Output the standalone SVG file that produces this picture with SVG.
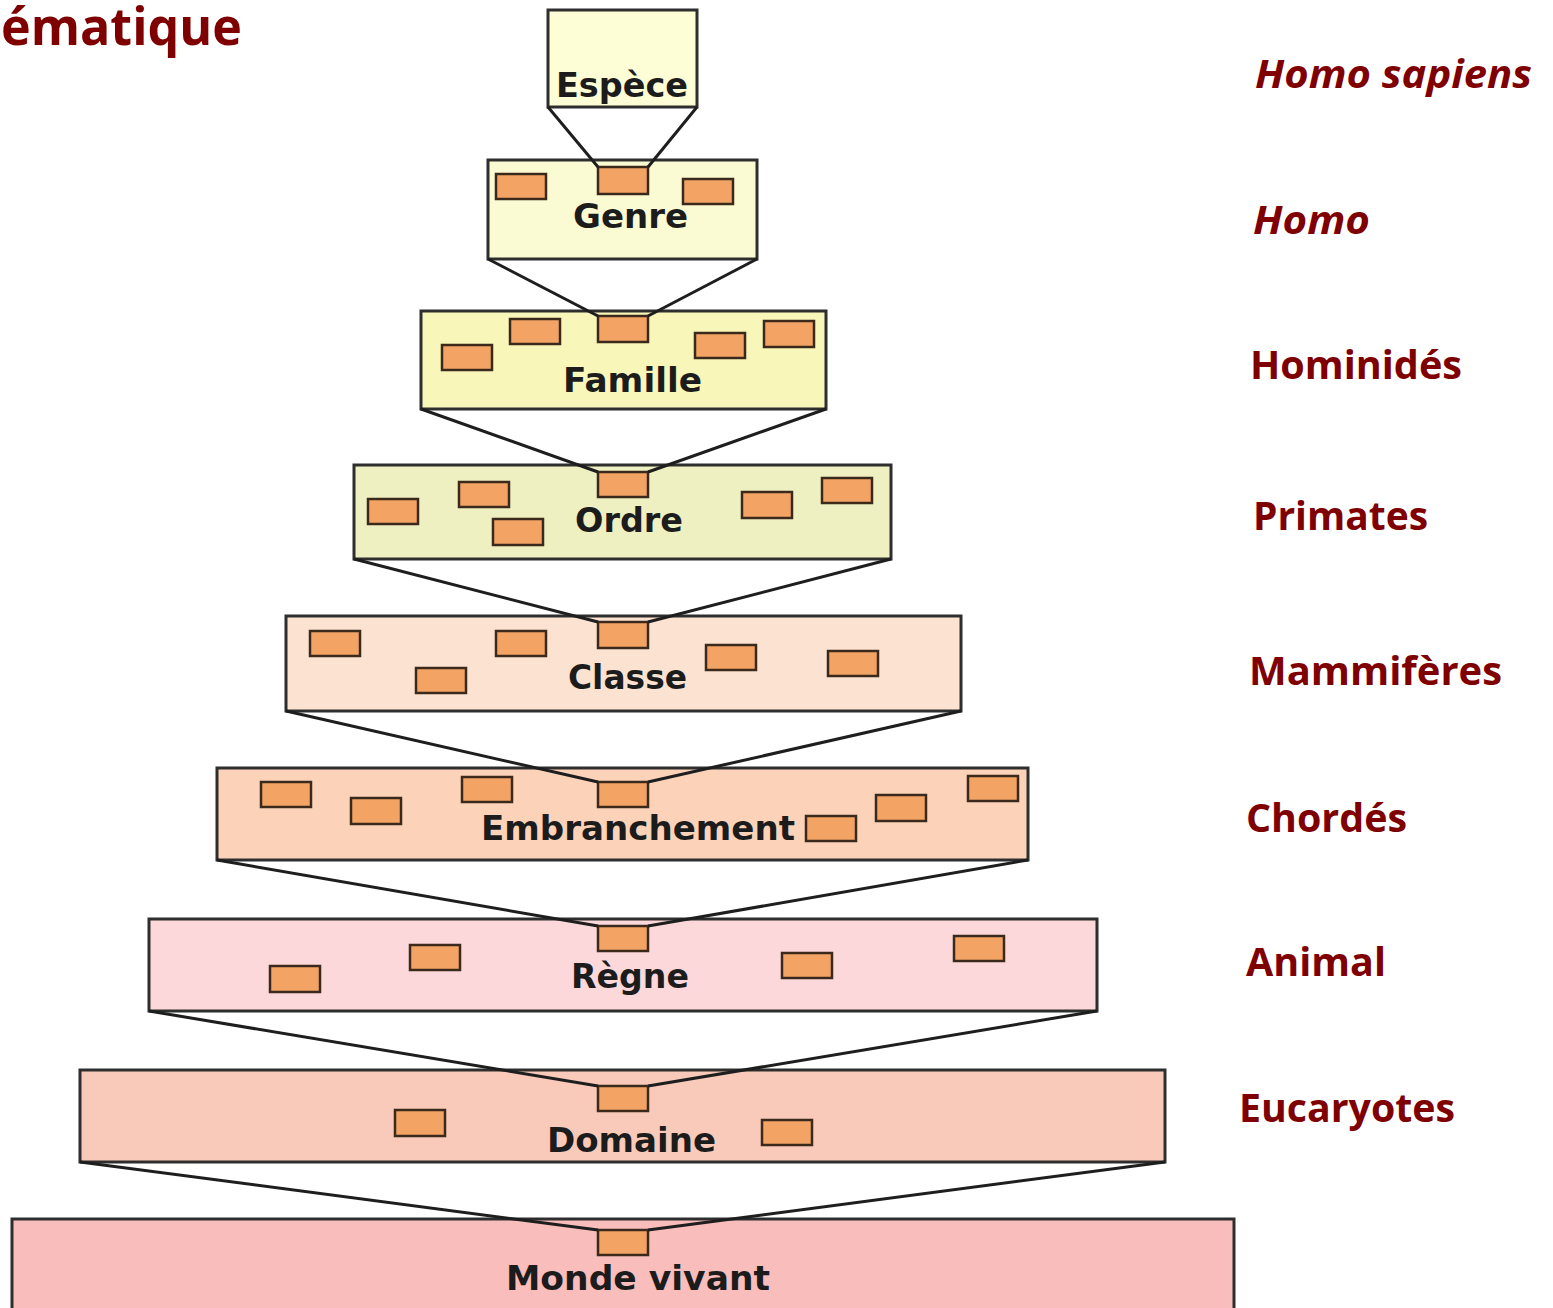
<svg xmlns="http://www.w3.org/2000/svg" width="1553" height="1308" viewBox="0 0 1553 1308">
<style>
.big{stroke:#2e2e2e;stroke-width:3}
.sm{fill:#f3a465;stroke:#3b2a1c;stroke-width:2.5}
.lbl{font-family:"DejaVu Sans",Verdana,sans-serif;font-weight:bold;font-size:34px;fill:#1c1c1c}
.rt{font-family:"Open Sans","Liberation Sans",sans-serif;font-weight:bold;font-size:40px;fill:#7f0000}
.conn{stroke:#1e1e1e;stroke-width:3;fill:none}
</style>
<rect width="1553" height="1308" fill="#ffffff"/>
<text x="1" y="45" class="rt" textLength="241" lengthAdjust="spacingAndGlyphs" style="font-size:52px">ématique</text>

<g id="espece"><rect class="big" x="548" y="10" width="149" height="97" fill="#fdfdd6"/>
<text class="lbl" x="556" y="97" textLength="132" lengthAdjust="spacingAndGlyphs">Espèce</text></g>

<g id="genre"><rect class="big" x="488" y="160" width="269" height="99" fill="#fbfbd3"/>
<rect class="sm" x="496" y="174" width="50" height="25"/><rect class="sm" x="598" y="167" width="50" height="27"/><rect class="sm" x="683" y="179" width="50" height="25"/>
<text class="lbl" x="573" y="228" textLength="115" lengthAdjust="spacingAndGlyphs">Genre</text></g>

<g id="famille"><rect class="big" x="421" y="311" width="405" height="98" fill="#f8f6b9"/>
<rect class="sm" x="442" y="345" width="50" height="25"/><rect class="sm" x="510" y="319" width="50" height="25"/><rect class="sm" x="598" y="316" width="50" height="26"/><rect class="sm" x="695" y="333" width="50" height="25"/><rect class="sm" x="764" y="321" width="50" height="26"/>
<text class="lbl" x="563" y="392" textLength="139" lengthAdjust="spacingAndGlyphs">Famille</text></g>

<g id="ordre"><rect class="big" x="354" y="465" width="537" height="94" fill="#eff0c1"/>
<rect class="sm" x="368" y="499" width="50" height="25"/><rect class="sm" x="459" y="482" width="50" height="25"/><rect class="sm" x="493" y="519" width="50" height="26"/><rect class="sm" x="598" y="472" width="50" height="25"/><rect class="sm" x="742" y="492" width="50" height="26"/><rect class="sm" x="822" y="478" width="50" height="25"/>
<text class="lbl" x="575" y="532" textLength="108" lengthAdjust="spacingAndGlyphs">Ordre</text></g>

<g id="classe"><rect class="big" x="286" y="616" width="675" height="95" fill="#fce3d1"/>
<rect class="sm" x="310" y="631" width="50" height="25"/><rect class="sm" x="416" y="668" width="50" height="25"/><rect class="sm" x="496" y="631" width="50" height="25"/><rect class="sm" x="598" y="622" width="50" height="26"/><rect class="sm" x="706" y="645" width="50" height="25"/><rect class="sm" x="828" y="651" width="50" height="25"/>
<text class="lbl" x="568" y="689" textLength="119" lengthAdjust="spacingAndGlyphs">Classe</text></g>

<g id="embranchement"><rect class="big" x="217" y="768" width="811" height="92" fill="#fcd3b8"/>
<rect class="sm" x="261" y="782" width="50" height="25"/><rect class="sm" x="351" y="798" width="50" height="26"/><rect class="sm" x="462" y="777" width="50" height="25"/><rect class="sm" x="598" y="782" width="50" height="25"/><rect class="sm" x="806" y="816" width="50" height="25"/><rect class="sm" x="876" y="795" width="50" height="26"/><rect class="sm" x="968" y="776" width="50" height="25"/>
<text class="lbl" x="481" y="840" textLength="314" lengthAdjust="spacingAndGlyphs">Embranchement</text></g>

<g id="regne"><rect class="big" x="149" y="919" width="948" height="92" fill="#fcd8da"/>
<rect class="sm" x="270" y="966" width="50" height="26"/><rect class="sm" x="410" y="945" width="50" height="25"/><rect class="sm" x="598" y="926" width="50" height="25"/><rect class="sm" x="782" y="953" width="50" height="25"/><rect class="sm" x="954" y="936" width="50" height="25"/>
<text class="lbl" x="571" y="988" textLength="118" lengthAdjust="spacingAndGlyphs">Règne</text></g>

<g id="domaine"><rect class="big" x="80" y="1070" width="1085" height="92" fill="#f9cab9"/>
<rect class="sm" x="395" y="1110" width="50" height="26"/><rect class="sm" x="598" y="1086" width="50" height="25"/><rect class="sm" x="762" y="1120" width="50" height="25"/>
<text class="lbl" x="547" y="1152" textLength="169" lengthAdjust="spacingAndGlyphs">Domaine</text></g>

<g id="monde"><rect class="big" x="12" y="1219" width="1222" height="100" fill="#f9bdbc"/>
<rect class="sm" x="598" y="1230" width="50" height="25"/>
<text class="lbl" x="506" y="1290" textLength="264" lengthAdjust="spacingAndGlyphs">Monde vivant</text></g>

<g id="connectors">
<polyline class="conn" points="548,107 598,167"/><polyline class="conn" points="697,107 648,167"/>
<polyline class="conn" points="488,259 598,316"/><polyline class="conn" points="757,259 648,316"/>
<polyline class="conn" points="421,409 598,472"/><polyline class="conn" points="826,409 648,472"/>
<polyline class="conn" points="354,559 598,622"/><polyline class="conn" points="891,559 648,622"/>
<polyline class="conn" points="286,711 598,782"/><polyline class="conn" points="961,711 648,782"/>
<polyline class="conn" points="217,860 598,926"/><polyline class="conn" points="1028,860 648,926"/>
<polyline class="conn" points="149,1011 598,1086"/><polyline class="conn" points="1097,1011 648,1086"/>
<polyline class="conn" points="80,1162 598,1230"/><polyline class="conn" points="1165,1162 648,1230"/>
</g>

<g id="labels">
<text class="rt" x="1255" y="88" font-style="italic" textLength="277" lengthAdjust="spacingAndGlyphs">Homo sapiens</text>
<text class="rt" x="1253" y="234" font-style="italic" textLength="117" lengthAdjust="spacingAndGlyphs">Homo</text>
<text class="rt" x="1250" y="379" textLength="212" lengthAdjust="spacingAndGlyphs">Hominidés</text>
<text class="rt" x="1253" y="530" textLength="175" lengthAdjust="spacingAndGlyphs">Primates</text>
<text class="rt" x="1249" y="685" textLength="253" lengthAdjust="spacingAndGlyphs">Mammifères</text>
<text class="rt" x="1246" y="832" textLength="161" lengthAdjust="spacingAndGlyphs">Chordés</text>
<text class="rt" x="1246" y="976" textLength="140" lengthAdjust="spacingAndGlyphs">Animal</text>
<text class="rt" x="1239" y="1122" textLength="216" lengthAdjust="spacingAndGlyphs">Eucaryotes</text>
</g>
</svg>
